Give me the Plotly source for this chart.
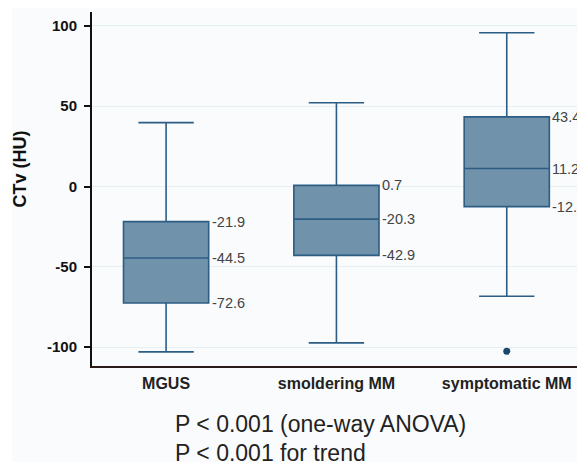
import plotly.graph_objects as go

categories = ["MGUS", "smoldering MM", "symptomatic MM"]
q1 = [-72.6, -42.9, -12.5]
median = [-44.5, -20.3, 11.2]
q3 = [-21.9, 0.7, 43.4]
lower_whisker = [-103.0, -97.4, -68.4]
upper_whisker = [39.8, 52.2, 95.8]
outlier_cat = ["symptomatic MM"]
outlier_val = [-102.6]
y_ticks = [-100, -50, 0, 50, 100]
y_tick_text = ["-100", "-50", "0", "50", "100"]

FONT = "Liberation Sans, Arial, Helvetica"

fig = go.Figure()
fig.add_trace(go.Box(
    x=categories, q1=q1, median=median, q3=q3,
    lowerfence=lower_whisker, upperfence=upper_whisker,
    fillcolor="#7092aa", line=dict(color="#2c5d84", width=1.6),
    width=0.5, whiskerwidth=0.65, boxpoints=False, showlegend=False,
    hoverinfo="skip",
))
fig.add_trace(go.Scatter(
    x=outlier_cat, y=outlier_val, mode="markers",
    marker=dict(color="#1b4670", size=7), showlegend=False, hoverinfo="skip",
))

for i, c in enumerate(categories):
    for v in (q1[i], median[i], q3[i]):
        fig.add_annotation(
            x=i + 0.255, y=v, xref="x", yref="y", text=f"{v:.1f}",
            showarrow=False, xanchor="left", yanchor="middle",
            font=dict(family=FONT, size=14.5, color="#444444"),
        )

fig.add_annotation(x=0.165, y=-0.165, xref="paper", yref="paper",
                   text="P < 0.001 (one-way ANOVA)", showarrow=False,
                   xanchor="left", yanchor="middle",
                   font=dict(family=FONT, size=23, color="#222222"))
fig.add_annotation(x=0.165, y=-0.245, xref="paper", yref="paper",
                   text="P < 0.001 for trend", showarrow=False,
                   xanchor="left", yanchor="middle",
                   font=dict(family=FONT, size=23, color="#222222"))
fig.add_annotation(x=-0.148, y=0.557, xref="paper", yref="paper",
                   text="<b>CTv (HU)</b>", showarrow=False, textangle=-90,
                   xanchor="center", yanchor="middle",
                   font=dict(family=FONT, size=18, color="#111111"))

fig.add_shape(type="rect", xref="paper", yref="paper", x0=-0.164, x1=1.02,
              y0=-0.3, y1=1.01, fillcolor="#fafbfc", line=dict(width=0),
              layer="below")

fig.update_layout(
    width=577, height=454,
    margin=dict(l=84, r=5, t=4, b=96, autoexpand=False),
    paper_bgcolor="white", plot_bgcolor="rgba(0,0,0,0)",
    font=dict(family=FONT, color="#222222"),
)
fig.update_xaxes(
    type="category", range=[-0.435, 2.43], showgrid=False, automargin=False,
    showline=True, linecolor="#2a1a18", linewidth=2, ticks="",
    tickfont=dict(size=16, color="#222222", family=FONT),
    ticklabelstandoff=2, tickprefix="<b>", ticksuffix="</b>",
)
fig.update_yaxes(
    range=[-111.8, 108.7], tickvals=y_ticks, ticktext=[f"<b>{t}</b>" for t in y_tick_text],
    showgrid=True, automargin=False,
    gridcolor="#e6f0f4", gridwidth=1, zeroline=False,
    showline=True, linecolor="#111111", linewidth=2,
    ticks="outside", ticklen=6, tickcolor="#111111", tickwidth=1.5,
    tickfont=dict(size=15, color="#111111", family=FONT),
    ticklabelstandoff=4,
)

fig.write_html("out.html")
